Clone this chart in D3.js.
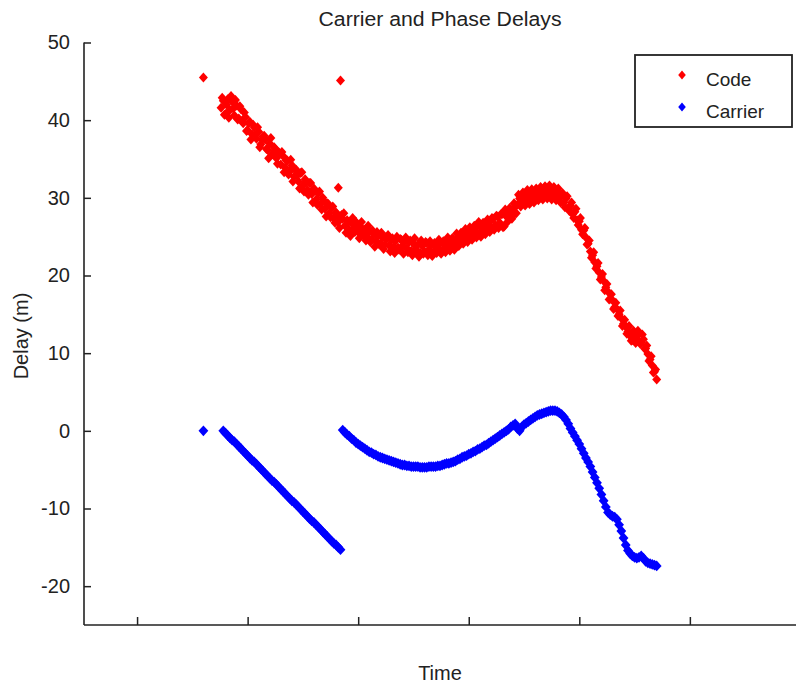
<!DOCTYPE html>
<html>
  <head>
    <meta http-equiv="Content-Type" content="text/html;charset=utf-8"/>
    <script src="https://cdn.jsdelivr.net/npm/d3@7/dist/d3.min.js"></script>
    <style type="text/css">
      body { margin: 0; background: #fff; }
      text { font-family: "Liberation Sans", Arial, sans-serif; fill: #222; }
    </style>
  </head>
  <body>
    <div id="chart"></div>

    <script type="text/javascript">
    // epochs (sample index) of the first value in each series
    var codeStart = 88;
    var codeStartB = 88.5;   // second code sample within each epoch
    var carrierStart = 89;

    // code delay (m), one value per epoch from codeStart
    var codeValues = [
      41.6, 42.5, 40.8, 42.7, 41.3, 42.4, 40.6, 41.9, 40.2, 41.4,
      39.6, 40.4, 38.7, 39.8, 38.2, 39.1, 37.6, 38.5, 36.9, 37.9,
      37.5, 36.2, 37.0, 35.6, 36.5, 35.1, 35.9, 34.3, 35.4, 33.9,
      34.8, 33.4, 34.2, 32.7, 33.6, 32.1, 33.2, 31.6, 32.4, 31.0,
      31.9, 30.5, 31.2, 29.8, 30.6, 29.2, 30.0, 28.6, 29.3, 28.0,
      28.7, 27.4, 28.1, 26.9, 27.6,
      27.3, 26.4, 27.1, 25.9, 26.8, 26.0, 26.9, 25.6, 26.3, 25.4,
      25.9, 25.0, 25.7, 24.6, 25.3, 24.4, 25.1, 24.1, 24.9, 24.0,
      24.8, 23.9, 24.6, 23.7, 24.5, 23.6, 24.7, 23.8, 24.4, 23.5,
      24.3, 23.2, 24.1, 23.4, 24.0, 22.9, 23.8, 23.1, 24.2, 23.3,
      23.9, 23.0, 23.7, 23.4, 24.1, 23.2, 24.0, 23.5, 24.4, 23.8,
      24.6, 24.0, 24.8, 24.3, 25.1, 24.6, 25.4, 24.9, 25.7, 25.2,
      26.1, 25.4, 26.3, 25.7, 26.6, 26.0, 26.8, 26.2, 27.3, 26.5,
      27.6, 26.8, 27.9, 26.3, 27.6, 28.2, 27.5, 28.6, 28.0, 29.1,
      29.9, 30.4, 29.5, 30.2, 29.7, 30.5, 29.9, 30.6, 30.1, 30.8,
      30.3, 31.0, 30.4, 31.1, 30.5, 30.9, 30.2, 30.8, 30.0, 30.4,
      29.4, 29.9, 28.7, 29.0, 27.9, 28.2, 27.1, 27.0, 25.9, 25.8,
      24.9, 24.1, 23.1, 22.6, 21.7, 21.2, 20.4, 19.8, 19.3, 18.5,
      17.9, 17.0, 16.8, 15.9, 15.7, 15.0, 14.5, 13.8, 13.4, 12.8,
      12.2, 11.7, 12.5, 11.9, 12.6, 11.4, 11.8, 10.6, 9.9, 9.2,
      8.4, 7.6, 6.6
    ];

    // code delay (m), second sample per epoch from codeStartB
    var codeValuesB = [
      42.9, 40.7, 42.0, 40.3, 43.1, 41.5, 42.6, 40.1, 41.8, 39.9,
      41.0, 38.6, 39.6, 37.5, 39.4, 38.1, 39.1, 36.5, 37.5, 38.0,
      36.3, 35.1, 37.7, 35.7, 36.3, 34.4, 35.7, 35.9, 33.3, 34.8,
      33.0, 34.9, 32.1, 33.6, 32.9, 31.2, 33.3, 30.8, 32.0, 30.4,
      31.9, 29.4, 30.9, 29.1, 30.8, 28.5, 29.6, 27.6, 29.2, 27.5,
      28.9, 26.8, 27.9, 26.1, 27.8,
      28.0, 25.5, 26.9, 25.1, 27.4, 25.6, 26.6, 24.8, 26.9, 25.1,
      24.5, 26.4, 24.3, 25.8, 23.7, 25.6, 24.0, 25.5, 23.4, 24.9,
      25.2, 23.1, 24.8, 22.9, 25.0, 23.3, 24.6, 22.8, 24.9, 23.0,
      24.5, 22.6, 24.8, 23.1, 22.4, 24.5, 22.8, 24.3, 22.6, 24.4,
      22.5, 24.2, 22.9, 24.6, 22.8, 24.4, 23.0, 24.9, 23.2, 24.8,
      23.3, 25.4, 23.8, 25.5, 24.1, 26.0, 24.3, 26.2, 24.6, 26.4,
      24.9, 26.9, 25.0, 26.8, 25.3, 27.2, 25.6, 27.4, 25.9, 27.7,
      26.1, 27.9, 26.2, 28.5, 26.9, 28.7, 27.3, 29.3, 28.0, 30.4,
      28.9, 30.7, 29.0, 31.0, 29.2, 31.1, 29.4, 31.2, 29.7, 31.4,
      29.8, 31.5, 29.9, 31.6, 29.8, 31.4, 29.7, 31.2, 29.4, 30.6,
      28.8, 30.2, 28.3, 29.4, 27.4, 28.6, 26.5, 27.4, 25.3, 26.1,
      24.0, 24.5, 22.3, 23.0, 20.9, 21.6, 19.5, 20.2, 18.1, 18.9,
      16.9, 17.6, 15.7, 16.5, 14.8, 15.5, 13.5, 14.3, 12.5, 13.5,
      11.6, 12.9, 11.3, 12.9, 11.2, 12.4, 10.6, 11.0, 9.0, 9.6,
      7.5, 7.9
    ];

    // carrier delay (m), one value per epoch from carrierStart
    var carrierValues = [
      0.0, -0.3, -0.6, -0.9, -1.2, -1.4, -1.7, -2.0, -2.3, -2.6,
      -2.9, -3.2, -3.5, -3.8, -4.0, -4.3, -4.6, -4.9, -5.2, -5.5,
      -5.8, -6.1, -6.4, -6.6, -6.9, -7.2, -7.5, -7.8, -8.1, -8.4,
      -8.7, -9.0, -9.2, -9.5, -9.8, -10.1, -10.4, -10.7, -11.0, -11.3,
      -11.6, -11.8, -12.1, -12.4, -12.7, -13.0, -13.3, -13.6, -13.9, -14.2,
      -14.5, -14.7, -15.0, -15.3,
      0.1, -0.2, -0.5, -0.7, -1.0, -1.2, -1.5, -1.7, -1.9, -2.1,
      -2.3, -2.5, -2.7, -2.8, -3.0, -3.1, -3.3, -3.4, -3.5, -3.6,
      -3.7, -3.8, -3.9, -4.0, -4.1, -4.2, -4.3, -4.4, -4.4, -4.5,
      -4.5, -4.6, -4.6, -4.6, -4.6, -4.7, -4.7, -4.7, -4.7, -4.6,
      -4.6, -4.6, -4.6, -4.5, -4.5, -4.4, -4.3, -4.2, -4.2, -4.1,
      -4.0, -3.9, -3.7, -3.6, -3.4, -3.3, -3.2, -3.0, -2.9, -2.7,
      -2.6, -2.4, -2.3, -2.1, -1.9, -1.8, -1.6, -1.4, -1.2, -1.0,
      -0.8, -0.6, -0.4, -0.2, 0.0, 0.2, 0.5, 0.7, 0.9, 0.3,
      0.0, 0.5, 0.8, 1.0, 1.2, 1.4, 1.6, 1.8, 2.0, 2.1,
      2.2, 2.3, 2.4, 2.5, 2.6, 2.6, 2.6, 2.5, 2.3, 2.1,
      1.8, 1.4, 0.9, 0.3, -0.2, -0.7, -1.2, -1.7, -2.3, -2.9,
      -3.5, -4.0, -4.6, -5.3, -6.0, -6.7, -7.4, -8.2, -9.0, -9.8,
      -10.5, -10.8, -11.0, -11.1, -11.4, -12.1, -12.9, -13.8, -14.7, -15.4,
      -15.8, -16.1, -16.3, -16.4, -16.3, -16.1, -16.4, -16.8, -17.0, -17.1,
      -17.2, -17.3, -17.4
    ];

    // stray samples
    var codeOutlierEpochs = [80, 141, 142];
    var codeOutlierValues = [45.5, 31.3, 45.1];
    var carrierOutlierEpochs = [80];
    var carrierOutlierValues = [0];

    var xTicks = [50, 100, 150, 200, 250, 300];
    var yTicks = [-20, -10, 0, 10, 20, 30, 40, 50];
    var seriesNames = ["Code", "Carrier"];
    var seriesColors = ["#ff0000", "#0000ff"];

    var W = 796, H = 686;
    var padLeft = 84, padBottom = 625, padTop = 42.5;

    var svg = d3.select("#chart").append("svg")
        .attr("width", W).attr("height", H);

    var x = d3.scaleLinear().domain([26, 348]).range([padLeft, 796]);
    var y = d3.scaleLinear().domain([-25, 50]).range([padBottom, padTop]);

    function toPoints(start, vals) {
      return vals.map(function(v, i) { return { t: start + i, v: v }; });
    }
    function pairs(ts, vs) {
      return ts.map(function(t, i) { return { t: t, v: vs[i] }; });
    }

    var codeData = toPoints(codeStart, codeValues)
      .concat(toPoints(codeStartB, codeValuesB))
      .concat(pairs(codeOutlierEpochs, codeOutlierValues));
    var carrierData = toPoints(carrierStart, carrierValues)
      .concat(pairs(carrierOutlierEpochs, carrierOutlierValues));

    var codeMark = "M0,-5L4.5,0L0,5L-4.5,0Z";
    var carrierMark = "M0,-5.4L4.9,0L0,5.4L-4.9,0Z";
    var legendMark = "M0,-4.4L3.8,0L0,4.4L-3.8,0Z";

    // axes (matlab style, ticks inward)
    var yAxis = d3.axisLeft(y).tickValues(yTicks).tickSize(-7).tickPadding(14)
      .tickFormat(function(d) { return String(d); });
    var gy = svg.append("g").attr("transform", "translate(" + padLeft + ",0)").call(yAxis);
    gy.select(".domain").remove();
    gy.selectAll("line").attr("stroke", "#222").attr("stroke-width", 1.5);
    gy.selectAll("text").attr("font-size", 20).attr("fill", "#222")
      .attr("font-family", "Liberation Sans, Arial, sans-serif");

    var xAxis = d3.axisBottom(x).tickValues(xTicks).tickSize(-8).tickFormat("");
    var gx = svg.append("g").attr("transform", "translate(0," + padBottom + ")").call(xAxis);
    gx.select(".domain").remove();
    gx.selectAll("line").attr("stroke", "#222").attr("stroke-width", 1.5);

    svg.append("line").attr("x1", padLeft).attr("x2", padLeft)
      .attr("y1", y(50)).attr("y2", padBottom)
      .attr("stroke", "#222").attr("stroke-width", 1.6);
    svg.append("line").attr("x1", padLeft).attr("x2", 796)
      .attr("y1", padBottom).attr("y2", padBottom)
      .attr("stroke", "#222").attr("stroke-width", 1.6);

    // markers
    svg.append("g").selectAll("path").data(codeData).enter().append("path")
      .attr("d", codeMark)
      .attr("transform", function(d) { return "translate(" + x(d.t) + "," + y(d.v) + ")"; })
      .attr("fill", seriesColors[0]);

    svg.append("g").selectAll("path").data(carrierData).enter().append("path")
      .attr("d", carrierMark)
      .attr("transform", function(d) { return "translate(" + x(d.t) + "," + y(d.v) + ")"; })
      .attr("fill", seriesColors[1]);

    // titles
    svg.append("text").attr("x", 440).attr("y", 26).attr("text-anchor", "middle")
      .attr("font-size", 20).attr("textLength", 243).attr("lengthAdjust", "spacingAndGlyphs")
      .text("Carrier and Phase Delays");
    svg.append("text").attr("x", 440).attr("y", 680).attr("text-anchor", "middle")
      .attr("font-size", 20).text("Time");
    svg.append("text").attr("transform", "translate(28,336) rotate(-90)")
      .attr("text-anchor", "middle").attr("font-size", 20).text("Delay (m)");

    // legend
    var lg = svg.append("g");
    lg.append("rect").attr("x", 635).attr("y", 55).attr("width", 157).attr("height", 72)
      .attr("fill", "#fff").attr("stroke", "#222").attr("stroke-width", 1.8);
    seriesNames.forEach(function(name, i) {
      var cy = 75 + i * 32;
      lg.append("path").attr("d", legendMark)
        .attr("transform", "translate(682," + cy + ")")
        .attr("fill", seriesColors[i]);
      lg.append("text").attr("x", 706).attr("y", cy + 11)
        .attr("font-size", 19).text(name);
    });
    </script>
  </body>
</html>
